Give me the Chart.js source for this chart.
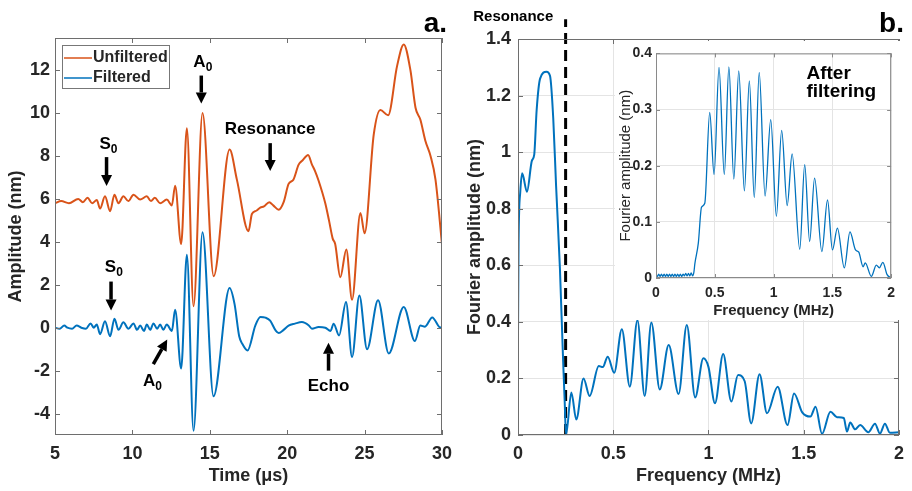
<!DOCTYPE html>
<html>
<head>
<meta charset="utf-8">
<script src="https://cdn.jsdelivr.net/npm/chart.js@4"></script>
<style>
body{margin:0;background:#fff;width:912px;height:491px;position:relative;overflow:hidden}
canvas{position:absolute}
#left{left:0;top:0}
#right{left:460px;top:0}
#inset{left:615px;top:41px;background:#fff}
</style>
</head>
<body>
<canvas id="left" width="460" height="491"></canvas>
<canvas id="right" width="452" height="491"></canvas>
<canvas id="inset" width="287" height="279"></canvas>
<script>
// tick labels
var timeTicks = [5, 10, 15, 20, 25, 30];
var ampTicks = [-4, -2, 0, 2, 4, 6, 8, 10, 12];
var freqTicks = [0, 0.5, 1, 1.5, 2];
var fourierTicks = [0, 0.2, 0.4, 0.6, 0.8, 1, 1.2, 1.4];
var insetTicks = [0, 0.1, 0.2, 0.3, 0.4];

// panel a: unfiltered signal (time in us, amplitude in nm)
var unfT = [5.0, 5.4, 5.9, 6.5, 6.8, 7.1, 7.4, 7.7, 7.91, 8.23, 8.56, 8.84, 9.1, 9.42, 9.74, 10.07, 10.5, 10.93, 11.2, 11.45, 11.79, 12.22, 12.55, 12.76,
  13.15, 13.52, 13.95, 14.53, 15.25, 16.28, 16.75, 17.5, 17.72, 18.0, 18.26, 18.5, 18.84, 19.1, 19.45, 19.77, 20.09, 20.4, 20.74, 21.0, 21.35, 21.6, 21.8,
  22.03, 22.46, 22.7, 22.94, 23.1, 23.43, 23.82, 24.19, 24.73, 25.0, 25.59, 26.02, 26.52, 27.1, 27.53, 27.96, 28.29, 28.6, 28.93, 29.26, 29.58, 30.0];
var unfA = [5.8, 5.9, 5.8, 6.0, 5.85, 6.05, 5.8, 5.95, 5.55, 6.12, 5.43, 6.2, 5.8, 6.12, 5.9, 6.2, 5.97, 6.12, 5.9, 6.05, 5.8, 5.97, 5.7, 6.62,
  3.9, 9.3, 1.0, 10.0, 2.4, 8.3, 6.9, 4.5, 5.3, 5.45, 5.6, 5.65, 5.85, 5.7, 5.5, 5.85, 6.7, 6.9, 7.6, 7.8, 8.05, 7.6, 7.3,
  6.85, 5.8, 5.0, 4.15, 3.9, 2.35, 3.65, 1.3, 5.35, 4.4, 9.0, 10.15, 9.9, 12.2, 13.2, 12.0, 10.25, 9.7, 8.7, 8.0, 6.9, 3.9];

// panel a: filtered signal
var filT = [5.0, 5.3, 5.6, 5.8, 6.1, 6.4, 6.7, 7.0, 7.3, 7.5, 7.7, 7.91, 8.23, 8.56, 8.84, 9.1, 9.42, 9.74, 10.07, 10.3, 10.5, 10.75, 10.93, 11.15, 11.36,
  11.6, 11.79, 12.0, 12.22, 12.55, 12.76, 13.15, 13.52, 13.95, 14.53, 15.24, 16.28, 16.6, 16.9, 17.1, 17.44, 17.94, 18.27, 18.6, 18.9, 19.26, 19.45, 19.77,
  20.09, 20.5, 20.95, 21.4, 21.6, 22.03, 22.46, 22.8, 23.0, 23.35, 23.8, 24.19, 24.66, 25.16, 25.87, 26.56, 27.53, 28.25, 28.6, 28.9, 29.37, 29.9, 30.0];
var filA = [0.0, -0.05, 0.1, 0.0, -0.05, 0.1, 0.0, -0.05, 0.2, 0.0, 0.15, -0.3, 0.3, -0.4, 0.42, -0.1, 0.25, -0.05, 0.2, -0.1, 0.1, -0.15, 0.15, -0.1, 0.2,
  -0.05, 0.15, -0.1, 0.15, -0.15, 0.84, -1.9, 3.4, -4.8, 4.45, -3.2, 1.85, 1.1, -0.4, -0.75, -1.06, 0.1, 0.5, 0.47, 0.33, -0.14, -0.25, -0.1,
  0.1, 0.19, 0.26, 0.1, -0.05, 0.03, 0.0, -0.15, 0.19, -0.36, 1.2, -1.37, 1.5, -1.0, 1.28, -1.2, 0.97, -0.62, 0.1, 0.05, 0.48, 0.0, 0.05];

// panel b: Fourier amplitude of the unfiltered signal (MHz, nm)
var specF = [0.0, 0.003, 0.012, 0.022, 0.047, 0.073, 0.085, 0.098, 0.116, 0.15, 0.168, 0.185, 0.2, 0.22, 0.237, 0.245, 0.252, 0.28, 0.306, 0.344, 0.376,
  0.424, 0.445, 0.471, 0.505, 0.545, 0.587, 0.627, 0.665, 0.7, 0.744, 0.791, 0.843, 0.886, 0.93, 0.973, 1.0, 1.034, 1.077, 1.12, 1.155, 1.19, 1.224,
  1.268, 1.307, 1.363, 1.415, 1.449, 1.492, 1.535, 1.562, 1.596, 1.64, 1.675, 1.71, 1.727, 1.744, 1.77, 1.796, 1.839, 1.874, 1.9, 1.926, 1.952, 2.0];
var specA = [0.34, 0.68, 0.86, 0.925, 0.86, 0.97, 0.99, 1.15, 1.26, 1.284, 1.27, 1.12, 0.88, 0.59, 0.26, 0.12, 0.0, 0.15, 0.055, 0.2, 0.138,
  0.244, 0.24, 0.277, 0.22, 0.374, 0.171, 0.406, 0.138, 0.398, 0.161, 0.318, 0.145, 0.389, 0.133, 0.271, 0.24, 0.112, 0.286, 0.118, 0.212, 0.19, 0.041,
  0.215, 0.077, 0.171, 0.035, 0.147, 0.08, 0.065, 0.1, 0.004, 0.082, 0.063, 0.06, 0.012, 0.044, 0.02, 0.035, 0.01, 0.04, 0.005, 0.04, 0.008, 0.01];

// inset: spectrum after filtering
var filtF = [0.0, 0.012, 0.023, 0.035, 0.046, 0.058, 0.069, 0.081, 0.092, 0.104, 0.115, 0.127, 0.138, 0.15, 0.161, 0.173, 0.184, 0.196, 0.207, 0.219,
  0.23, 0.242, 0.253, 0.265, 0.276, 0.288, 0.299, 0.311, 0.322, 0.331, 0.36, 0.387, 0.415, 0.457, 0.494, 0.536, 0.581, 0.62, 0.662, 0.704, 0.752,
  0.794, 0.836, 0.878, 0.928, 0.976, 1.024, 1.069, 1.116, 1.158, 1.223, 1.265, 1.307, 1.349, 1.411, 1.459, 1.501, 1.543, 1.602, 1.65, 1.697, 1.725,
  1.762, 1.78, 1.832, 1.874, 1.9, 1.93, 1.966, 2.0];
var filtA = [0.006, 0.003, 0.007, 0.003, 0.007, 0.003, 0.007, 0.003, 0.007, 0.003, 0.007, 0.003, 0.007, 0.003, 0.007, 0.003, 0.007, 0.003, 0.007, 0.003,
  0.007, 0.004, 0.008, 0.004, 0.008, 0.004, 0.009, 0.004, 0.01, 0.026, 0.062, 0.126, 0.133, 0.295, 0.184, 0.375, 0.184, 0.376, 0.176, 0.369, 0.155,
  0.351, 0.143, 0.366, 0.146, 0.282, 0.11, 0.263, 0.129, 0.221, 0.051, 0.202, 0.065, 0.178, 0.047, 0.139, 0.05, 0.089, 0.018, 0.082, 0.05, 0.046,
  0.02, 0.027, 0.003, 0.023, 0.018, 0.028, 0.006, 0.0];

var cutoffF = [0.25, 0.25];
var cutoffA = [0, 1.47];

var FONT = '"Liberation Sans", Arial, sans-serif';
var INK = '#262626';
Chart.defaults.font.family = FONT;
Chart.defaults.font.weight = 'bold';
Chart.defaults.color = INK;

function pts(xs, ys) {
  return xs.map(function (x, i) { return {x: x, y: ys[i]}; });
}
function fixTicks(list) {
  return function (s) { s.ticks = list.map(function (v) { return {value: v}; }); };
}
function plain(v) { return String(Math.round(v * 100) / 100); }

// box round the axes with little inward ticks, like matlab
var framePlugin = {
  id: 'frame',
  afterDatasetsDraw: function (chart, args, o) {
    var c = chart.ctx, a = chart.chartArea, sx = chart.scales.x, sy = chart.scales.y;
    c.save();
    c.strokeStyle = o.color;
    c.lineWidth = 1;
    c.strokeRect(a.left + 0.5, a.top + 0.5, a.right - a.left - 1, a.bottom - a.top - 1);
    c.beginPath();
    sx.ticks.forEach(function (t) {
      var x = Math.round(sx.getPixelForValue(t.value)) + 0.5;
      c.moveTo(x, a.bottom); c.lineTo(x, a.bottom - o.len);
      c.moveTo(x, a.top); c.lineTo(x, a.top + o.len);
    });
    sy.ticks.forEach(function (t) {
      var y = Math.round(sy.getPixelForValue(t.value)) + 0.5;
      c.moveTo(a.left, y); c.lineTo(a.left + o.len, y);
      c.moveTo(a.right, y); c.lineTo(a.right - o.len, y);
    });
    c.stroke();
    c.restore();
  }
};

function arrow(c, x1, y1, x2, y2) {
  var ang = Math.atan2(y2 - y1, x2 - x1), h = 11, w = 5.5;
  var bx = x2 - h * Math.cos(ang), by = y2 - h * Math.sin(ang);
  c.lineWidth = 3.5;
  c.beginPath(); c.moveTo(x1, y1); c.lineTo(bx, by); c.stroke();
  c.beginPath();
  c.moveTo(x2, y2);
  c.lineTo(bx - w * Math.sin(ang), by + w * Math.cos(ang));
  c.lineTo(bx + w * Math.sin(ang), by - w * Math.cos(ang));
  c.closePath(); c.fill();
}

// text labels and arrows placed in data coordinates
var notesPlugin = {
  id: 'notes',
  afterDatasetsDraw: function (chart, args, o) {
    var c = chart.ctx, sx = chart.scales.x, sy = chart.scales.y;
    c.save();
    c.fillStyle = '#000'; c.strokeStyle = '#000';
    c.textBaseline = 'middle';
    (o.items || []).forEach(function (n) {
      var x = sx.getPixelForValue(n.x), y = sy.getPixelForValue(n.y);
      var main = 'bold ' + (n.size || 17) + 'px ' + FONT, sub = 'bold 12px ' + FONT;
      c.font = main;
      var w1 = c.measureText(n.text).width, w2 = 0;
      if (n.sub) { c.font = sub; w2 = c.measureText(n.sub).width; }
      var x0 = n.align === 'left' ? x : x - (w1 + w2) / 2;
      c.textAlign = 'left';
      c.font = main; c.fillText(n.text, x0, y);
      if (n.sub) { c.font = sub; c.fillText(n.sub, x0 + w1, y + 5); }
    });
    (o.arrows || []).forEach(function (r) {
      arrow(c, sx.getPixelForValue(r[0]), sy.getPixelForValue(r[1]), sx.getPixelForValue(r[2]), sy.getPixelForValue(r[3]));
    });
    c.restore();
  }
};

// panel letter, top right
var letterPlugin = {
  id: 'letter',
  afterDraw: function (chart, args, o) {
    var c = chart.ctx;
    c.save();
    c.font = 'bold 28px ' + FONT;
    c.fillStyle = '#000';
    c.textAlign = 'right';
    c.textBaseline = 'alphabetic';
    c.fillText(o.text, chart.chartArea.right + 5, 32);
    if (o.top) {
      c.font = 'bold 15px ' + FONT;
      c.fillText(o.top, chart.scales.x.getPixelForValue(o.topX), 21);
    }
    c.restore();
  }
};

// boxed legend inside the axes
var boxLegend = {
  id: 'boxLegend',
  afterDatasetsDraw: function (chart) {
    var c = chart.ctx, a = chart.chartArea;
    var x = a.left + 7, y = a.top + 7;
    c.save();
    c.fillStyle = '#fff';
    c.fillRect(x, y, 107, 43);
    c.strokeStyle = '#777'; c.lineWidth = 1;
    c.strokeRect(x + 0.5, y + 0.5, 107, 43);
    c.font = 'bold 16px ' + FONT;
    c.textBaseline = 'middle';
    chart.data.datasets.forEach(function (d, i) {
      var ly = y + 13 + i * 20;
      c.strokeStyle = d.borderColor; c.lineWidth = 1.5;
      c.beginPath(); c.moveTo(x + 2, ly); c.lineTo(x + 30, ly); c.stroke();
      c.fillStyle = INK;
      c.fillText(d.label, x + 31, ly);
    });
    c.restore();
  }
};

function tickFont(size) { return {size: size, weight: 'bold'}; }

new Chart(document.getElementById('left'), {
  type: 'line',
  data: {
    datasets: [{
      label: 'Unfiltered',
      data: pts(unfT, unfA),
      borderColor: '#D95319',
      borderWidth: 2,
      pointRadius: 0,
      cubicInterpolationMode: 'monotone'
    }, {
      label: 'Filtered',
      data: pts(filT, filA),
      borderColor: '#0072BD',
      borderWidth: 2,
      pointRadius: 0,
      cubicInterpolationMode: 'monotone'
    }]
  },
  options: {
    responsive: false,
    animation: false,
    layout: {padding: {top: 38, right: 18, left: 0, bottom: 0}},
    plugins: {
      legend: {display: false},
      tooltip: {enabled: false},
      frame: {color: '#6e6e6e', len: 5},
      letter: {text: 'a.'},
      notes: {
        items: [
          {text: 'S', sub: '0', x: 8.45, y: 8.55},
          {text: 'A', sub: '0', x: 14.55, y: 12.35},
          {text: 'Resonance', x: 18.9, y: 9.25},
          {text: 'S', sub: '0', x: 8.8, y: 2.8},
          {text: 'A', sub: '0', x: 11.3, y: -2.5},
          {text: 'Echo', x: 22.67, y: -2.75}
        ],
        arrows: [
          [8.33, 7.95, 8.33, 6.6],
          [14.45, 11.75, 14.45, 10.45],
          [18.9, 8.6, 18.9, 7.3],
          [8.62, 2.15, 8.62, 0.8],
          [11.35, -1.7, 12.25, -0.55],
          [22.67, -2.0, 22.67, -0.7]
        ]
      }
    },
    scales: {
      x: {
        type: 'linear', min: 5, max: 30,
        afterBuildTicks: fixTicks(timeTicks),
        afterFit: function (s) { s.height = 56; },
        grid: {display: false, drawTicks: false},
        border: {display: false},
        ticks: {padding: 8, font: tickFont(18), color: INK, maxRotation: 0, callback: plain},
        title: {display: true, text: 'Time (\u03bcs)', font: {size: 18, weight: 'bold'}, color: INK, padding: {top: 0, bottom: 4}}
      },
      y: {
        type: 'linear', min: -5, max: 13.5,
        afterBuildTicks: fixTicks(ampTicks),
        afterFit: function (s) { s.width = 55; },
        grid: {display: false, drawTicks: false},
        border: {display: false},
        ticks: {padding: 5, font: tickFont(18), color: INK, callback: plain},
        title: {display: true, text: 'Amplitude (nm)', font: {size: 18, weight: 'bold'}, color: INK, padding: {top: 5, bottom: 0}}
      }
    }
  },
  plugins: [framePlugin, notesPlugin, boxLegend, letterPlugin]
});

new Chart(document.getElementById('right'), {
  type: 'line',
  data: {
    datasets: [{
      label: 'Fourier amplitude',
      data: pts(specF, specA),
      borderColor: '#0072BD',
      borderWidth: 2,
      pointRadius: 0,
      cubicInterpolationMode: 'monotone'
    }, {
      label: 'Resonance cut-off',
      data: pts(cutoffF, cutoffA),
      borderColor: '#000',
      borderWidth: 3,
      borderDash: [11, 6],
      pointRadius: 0,
      clip: false
    }]
  },
  options: {
    responsive: false,
    animation: false,
    layout: {padding: {top: 39, right: 9, left: 0, bottom: 0}},
    plugins: {
      legend: {display: false},
      tooltip: {enabled: false},
      frame: {color: '#6e6e6e', len: 5},
      letter: {text: 'b.', top: 'Resonance', topX: 0.185}
    },
    scales: {
      x: {
        type: 'linear', min: 0, max: 2,
        afterBuildTicks: fixTicks(freqTicks),
        afterFit: function (s) { s.height = 56; },
        grid: {color: '#e4e4e4', drawTicks: false},
        border: {display: false},
        ticks: {padding: 8, font: tickFont(18), color: INK, maxRotation: 0, callback: plain},
        title: {display: true, text: 'Frequency (MHz)', font: {size: 18, weight: 'bold'}, color: INK, padding: {top: 0, bottom: 4}}
      },
      y: {
        type: 'linear', min: 0, max: 1.4,
        afterBuildTicks: fixTicks(fourierTicks),
        afterFit: function (s) { s.width = 58; },
        grid: {color: '#e4e4e4', drawTicks: false},
        border: {display: false},
        ticks: {padding: 7, font: tickFont(18), color: INK, callback: plain},
        title: {display: true, text: 'Fourier amplitude (nm)', font: {size: 18, weight: 'bold'}, color: INK, padding: {top: 4, bottom: 0}}
      }
    }
  },
  plugins: [framePlugin, letterPlugin]
});

new Chart(document.getElementById('inset'), {
  type: 'line',
  data: {
    datasets: [{
      label: 'After filtering',
      data: pts(filtF, filtA),
      borderColor: '#0072BD',
      borderWidth: 1.3,
      pointRadius: 0,
      cubicInterpolationMode: 'monotone'
    }]
  },
  options: {
    responsive: false,
    animation: false,
    layout: {padding: {top: 11, right: 9, left: 0, bottom: 0}},
    plugins: {
      legend: {display: false},
      tooltip: {enabled: false},
      frame: {color: '#8a8a8a', len: 4},
      notes: {
        items: [
          {text: 'After', x: 1.28, y: 0.364, size: 19, align: 'left'},
          {text: 'filtering', x: 1.28, y: 0.331, size: 19, align: 'left'}
        ]
      }
    },
    scales: {
      x: {
        type: 'linear', min: 0, max: 2,
        afterBuildTicks: fixTicks(freqTicks),
        afterFit: function (s) { s.height = 42; },
        grid: {color: '#e4e4e4', drawTicks: false},
        border: {display: false},
        ticks: {padding: 7, font: tickFont(14), color: INK, maxRotation: 0, callback: plain},
        title: {display: true, text: 'Frequency (MHz)', font: {size: 15, weight: 'bold'}, color: INK, padding: {top: 0, bottom: 0}}
      },
      y: {
        type: 'linear', min: 0, max: 0.4,
        afterBuildTicks: fixTicks(insetTicks),
        afterFit: function (s) { s.width = 41; },
        grid: {color: '#e4e4e4', drawTicks: false},
        border: {display: false},
        ticks: {padding: 4, font: tickFont(14), color: INK, callback: plain},
        title: {display: true, text: 'Fourier amplitude (nm)', font: {size: 15, weight: 'normal'}, color: INK, padding: {top: 2, bottom: 0}}
      }
    }
  },
  plugins: [framePlugin, notesPlugin]
});
</script>
</body>
</html>
